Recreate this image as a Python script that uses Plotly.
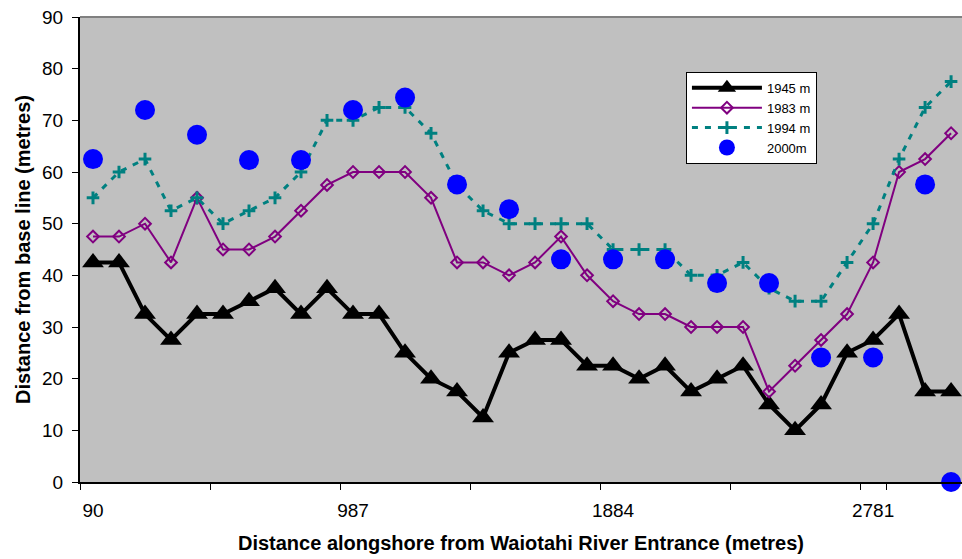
import plotly.graph_objects as go

# Categories: distance alongshore (m)
categories = ["90", "179.7", "269.4", "359.1", "448.8", "538.5", "628.2", "717.9",
              "807.6", "897.3", "987", "1076.7", "1166.4", "1256.1", "1345.8",
              "1435.5", "1525.2", "1614.9", "1704.6", "1794.3", "1884", "1973.7",
              "2063.4", "2153.1", "2242.8", "2332.5", "2422.2", "2511.9", "2601.6",
              "2691.3", "2781", "2870.7", "2960.4", "3050.1"]

y1945 = [42.5, 42.5, 32.5, 27.5, 32.5, 32.5, 35, 37.5, 32.5, 37.5, 32.5, 32.5, 25, 20,
         17.5, 12.5, 25, 27.5, 27.5, 22.5, 22.5, 20, 22.5, 17.5, 20, 22.5, 15, 10, 15,
         25, 27.5, 32.5, 17.5, 17.5]
y1983 = [47.5, 47.5, 50, 42.5, 55, 45, 45, 47.5, 52.5, 57.5, 60, 60, 60, 55, 42.5, 42.5,
         40, 42.5, 47.5, 40, 35, 32.5, 32.5, 30, 30, 30, 17.5, 22.5, 27.5, 32.5, 42.5,
         60, 62.5, 67.5]
y1994 = [55, 60, 62.5, 52.5, 55, 50, 52.5, 55, 60, 70, 70, 72.5, 72.5, 67.5, 57.5, 52.5,
         50, 50, 50, 50, 45, 45, 45, 40, 40, 42.5, 37.5, 35, 35, 42.5, 50, 62.5, 72.5, 77.5]

x2000 = ["90", "269.4", "448.8", "628.2", "807.6", "987", "1166.4", "1345.8", "1525.2",
         "1704.6", "1884", "2063.4", "2242.8", "2422.2", "2601.6", "2781", "2960.4", "3050.1"]
y2000 = [62.5, 72, 67.2, 62.3, 62.3, 72, 74.4, 57.6, 52.8, 43.1, 43.1, 43.1, 38.5, 38.5,
         24.1, 24.1, 57.6, 0]

tick_cats = ["90", "538.5", "987", "1435.5", "1884", "2332.5", "2781"]
tick_text = ["90", "", "987", "", "1884", "", "2781"]

FONT = "Arial, 'Liberation Sans', sans-serif"

fig = go.Figure()
fig.add_trace(go.Scatter(
    x=categories, y=y1945, name="1945 m", mode="lines+markers",
    line=dict(color="#000000", width=4),
    marker=dict(symbol="triangle-up", size=19, color="#000000"),
    cliponaxis=False))
fig.add_trace(go.Scatter(
    x=categories, y=y1983, name="1983 m", mode="lines+markers",
    line=dict(color="#800080", width=2),
    marker=dict(symbol="diamond-open", size=9, color="#800080",
                line=dict(color="#800080", width=2)),
    cliponaxis=False))
fig.add_trace(go.Scatter(
    x=categories, y=y1994, name="1994 m", mode="lines+markers",
    line=dict(color="#008080", width=3, dash="6px,7px"),
    marker=dict(symbol="cross-thin", size=9, color="#008080",
                line=dict(color="#008080", width=3)),
    cliponaxis=False))
fig.add_trace(go.Scatter(
    x=x2000, y=y2000, name="2000m", mode="markers",
    marker=dict(symbol="circle", size=20, color="#0000FF"),
    cliponaxis=False))

fig.update_layout(
    width=962, height=559,
    margin=dict(l=80, r=0, t=17, b=77),
    paper_bgcolor="#FFFFFF",
    plot_bgcolor="#C0C0C0",
    font=dict(family=FONT, size=19, color="#000000"),
    showlegend=True,
    legend=dict(
        x=0.687, y=0.882, xanchor="left", yanchor="top",
        bgcolor="#FFFFFF", bordercolor="#000000", borderwidth=1,
        font=dict(family=FONT, size=13, color="#000000"),
        tracegroupgap=0, itemwidth=70,
    ),
    xaxis=dict(
        type="category",
        categoryorder="array", categoryarray=categories,
        range=[-0.5, 33.42],
        tickmode="array", tickvals=tick_cats, ticktext=tick_text,
        tickson="boundaries", tickangle=0, ticklabelstandoff=10,
        ticks="outside", ticklen=6, tickwidth=1, tickcolor="#000000",
        showgrid=False, zeroline=False,
        showline=True, linecolor="#000000", linewidth=2,
        tickfont=dict(family=FONT, size=19),
        title=dict(text="<b>Distance alongshore from Waiotahi River Entrance (metres)</b>",
                   font=dict(family=FONT, size=20), standoff=16),
    ),
    yaxis=dict(
        range=[0, 90], dtick=10, tick0=0,
        ticks="outside", ticklen=6, tickwidth=1, tickcolor="#000000",
        ticklabelstandoff=5,
        showgrid=False, zeroline=False,
        showline=True, linecolor="#000000", linewidth=2,
        tickfont=dict(family=FONT, size=19),
        title=dict(text="<b>Distance from base line (metres)</b>",
                   font=dict(family=FONT, size=20), standoff=6),
    ),
    shapes=[dict(type="line", xref="paper", yref="paper", x0=0, x1=1, y0=1, y1=1,
                 line=dict(color="#808080", width=2))],
)

fig.write_html("out.html")
